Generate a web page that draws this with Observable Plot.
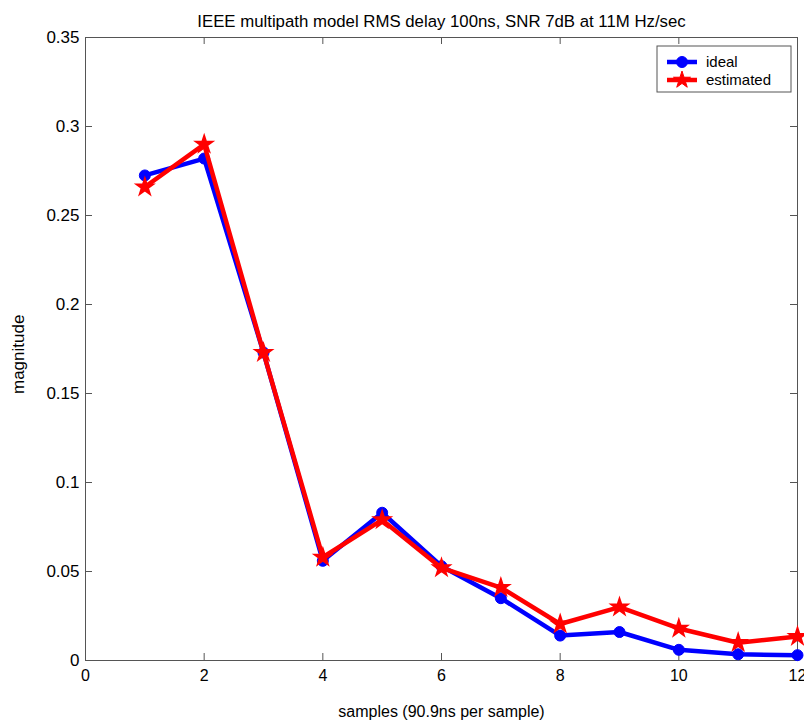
<!DOCTYPE html>
<html>
<head>
<meta charset="utf-8">
<script src="https://cdn.jsdelivr.net/npm/d3@7"></script>
<script src="https://cdn.jsdelivr.net/npm/@observablehq/plot@0.6"></script>
<style>
  html, body { margin: 0; padding: 0; background: #fff; }
  svg { display: block; }
</style>
</head>
<body>
<div id="chart"></div>
<script>
// Data
const samples = [1, 2, 3, 4, 5, 6, 7, 8, 9, 10, 11, 12];
const ideal = [0.2725, 0.282, 0.173, 0.056, 0.083, 0.053, 0.035, 0.014, 0.016, 0.006, 0.0035, 0.003];
const estimated = [0.266, 0.290, 0.173, 0.058, 0.079, 0.052, 0.041, 0.0205, 0.030, 0.018, 0.010, 0.0135];
const xTicks = [0, 2, 4, 6, 8, 10, 12];
const yTicks = [0, 0.05, 0.1, 0.15, 0.2, 0.25, 0.3, 0.35];
const titleText = "IEEE multipath model RMS delay 100ns, SNR 7dB at 11M Hz/sec";
const xLabel = "samples (90.9ns per sample)";
const yLabel = "magnitude";
const seriesNames = ["ideal", "estimated"];

const idealData = samples.map((s, i) => ({x: s, y: ideal[i]}));
const estData = samples.map((s, i) => ({x: s, y: estimated[i]}));

const BLUE = "#0000ff", RED = "#ff0000";
const sans = "'Liberation Sans', Arial, sans-serif";
const fmt = d => String(+d.toFixed(2));
const yMax = 0.35, xMax = 12;
const plotH = 727 - 37 - 67, plotW = 804 - 85 - 7;
const tickLenY = yMax * 7 / plotH;   // 7px inward tick in y-data units
const tickLenX = xMax * 7 / plotW;   // 7px inward tick in x-data units

const plot = Plot.plot({
  width: 804,
  height: 727,
  marginLeft: 85,
  marginRight: 7,
  marginTop: 37,
  marginBottom: 67,
  style: {fontFamily: sans, background: "#fff", color: "#000"},
  x: {domain: [0, xMax], label: null},
  y: {domain: [0, yMax], label: null},
  marks: [
    // inward ticks on all four sides
    Plot.ruleX(xTicks, {x: d => d, y1: 0, y2: tickLenY, stroke: "#555"}),
    Plot.ruleX(xTicks, {x: d => d, y1: yMax, y2: yMax - tickLenY, stroke: "#555"}),
    Plot.ruleY(yTicks, {y: d => d, x1: 0, x2: tickLenX, stroke: "#555"}),
    Plot.ruleY(yTicks, {y: d => d, x1: xMax, x2: xMax - tickLenX, stroke: "#555"}),
    Plot.frame({stroke: "#555", strokeWidth: 1}),
    Plot.axisX(xTicks, {anchor: "bottom", tickSize: 0, tickPadding: 9, fontSize: 16, tickFormat: fmt}),
    Plot.axisY(yTicks, {anchor: "left", tickSize: 0, tickPadding: 6, fontSize: 17, tickFormat: fmt}),
    Plot.line(idealData, {x: "x", y: "y", stroke: BLUE, strokeWidth: 4.5}),
    Plot.dot(idealData, {x: "x", y: "y", r: 5.5, fill: BLUE, stroke: BLUE, strokeWidth: 1}),
    Plot.line(estData, {x: "x", y: "y", stroke: RED, strokeWidth: 4.5}),
    Plot.dot(estData, {x: "x", y: "y", r: 5.5, symbol: "star", fill: RED, stroke: RED, strokeWidth: 1.5}),
    Plot.text([titleText], {frameAnchor: "top", dy: -22, fontSize: 16.8, fill: "#000"}),
    Plot.text([xLabel], {frameAnchor: "bottom", dy: 56, fontSize: 16, fill: "#000"}),
    Plot.text([yLabel], {frameAnchor: "left", dx: -67, dy: 45, rotate: -90, fontSize: 17, fill: "#000"})
  ]
});

document.getElementById("chart").appendChild(plot);

// Legend box (drawn into the same SVG, top-right inside the frame)
const svg = d3.select(plot);
const lg = svg.append("g").attr("transform", "translate(657,46)");
lg.append("rect").attr("width", 134).attr("height", 46)
  .attr("fill", "#fff").attr("stroke", "#555").attr("stroke-width", 1);
const colors = [BLUE, RED];
const symbols = [d3.symbolCircle, d3.symbolStar];
seriesNames.forEach((name, i) => {
  const y = 16 + i * 18;
  lg.append("line").attr("x1", 10).attr("x2", 40).attr("y1", y).attr("y2", y)
    .attr("stroke", colors[i]).attr("stroke-width", 4.5);
  lg.append("path").attr("transform", `translate(25,${y})`)
    .attr("d", d3.symbol(symbols[i], i === 0 ? 95 : 90)())
    .attr("fill", colors[i]).attr("stroke", colors[i]);
  lg.append("text").attr("x", 49).attr("y", y + 5)
    .attr("text-anchor", "start")
    .attr("font-family", sans).attr("font-size", 15).attr("fill", "#000").text(name);
});
</script>
</body>
</html>
